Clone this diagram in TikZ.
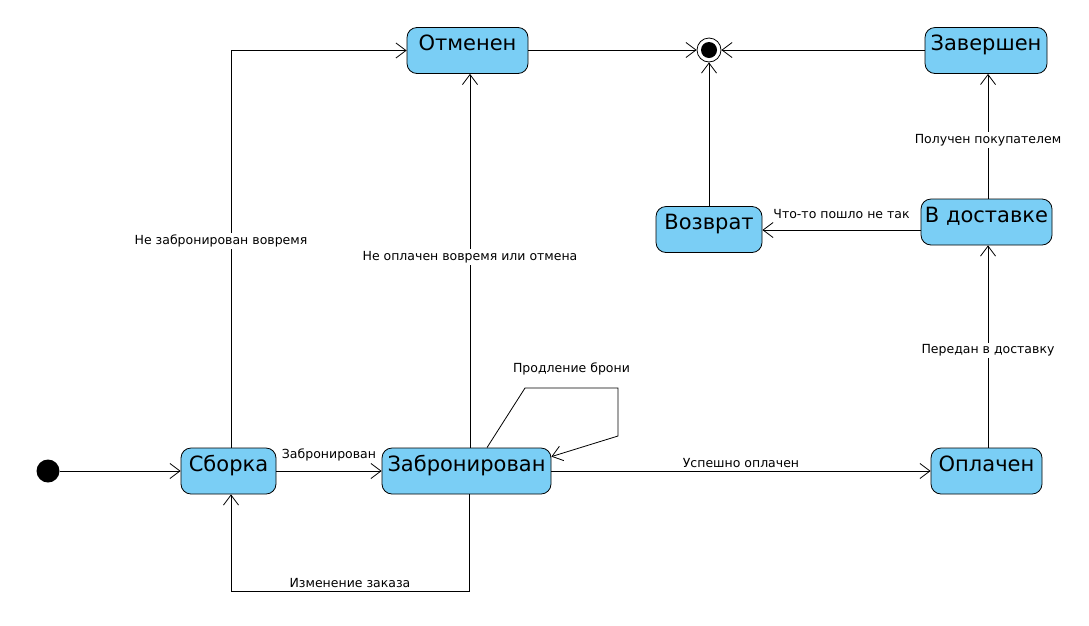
\documentclass[tikz,border=0pt]{standalone}
\usepackage{fontspec}
\setmainfont{DejaVu Sans}
\usetikzlibrary{arrows.meta}
\definecolor{stfill}{RGB}{122,206,245}

\tikzset{
  statebox/.style={draw, fill=stfill, rounded corners=10pt, line width=0.8pt,
    text height=19pt, text depth=19pt, inner ysep=4pt, inner xsep=0pt,
    font=\fontsize{21}{23}\selectfont},
  lbl/.style={fill=white, inner sep=2pt, font=\fontsize{12.5}{14}\selectfont},
  toplbl/.style={above, inner sep=3pt, font=\fontsize{12.5}{14}\selectfont},
  arr/.style={-{Straight Barb[length=10pt,width=15pt,line width=0.8pt]}, line width=0.8pt}
}

\begin{document}
\begin{tikzpicture}[x=1pt, y=-1pt]
        \useasboundingbox (0,0) rectangle (1089,625);

        %% states
        \node [circle, fill, minimum size=23pt, inner sep=0pt] (init) at (48,471) {};
        \node [statebox, minimum width=95pt] (sborka) at (228.5,471) {Сборка};
        \node [statebox, minimum width=169pt] (zabr) at (466.5,471) {Забронирован};
        \node [statebox, minimum width=111pt] (oplach) at (986.5,471) {Оплачен};
        \node [statebox, minimum width=131pt] (dostav) at (986.5,222) {В доставке};
        \node [statebox, minimum width=122pt] (zavers) at (986,50.5) {Завершен};
        \node [statebox, minimum width=106pt] (vozvr) at (709,229.5) {Возврат};
        \node [statebox, minimum width=121pt] (otmen) at (467.5,50.5) {Отменен};

        %% final state
        \node [circle, draw, fill=white, line width=0.8pt, minimum size=24pt, inner sep=0pt] (fin) at (709,50) {};
        \fill (fin.center) circle (8);

        %% bends
        \coordinate (chgA) at (469,591);
        \coordinate (chgB) at (231,591);
        \coordinate (loopA) at (525,388);
        \coordinate (loopB) at (618,388);
        \coordinate (loopC) at (618,436);

        %% transitions
        \draw [arr] (init) -- (sborka);
        \draw [arr] (sborka) -- node [toplbl, yshift=7pt] {Забронирован} (zabr);
        \draw [arr] ([xshift=2.5pt]sborka.north) |- node [lbl, pos=0.26, xshift=-10pt] {Не забронирован вовремя} (otmen.west);
        \draw [arr] ([xshift=3.5pt]zabr.north) -- node [lbl, pos=0.51] {Не оплачен вовремя или отмена} ([xshift=3.5pt]zabr.north |- otmen.south);
        \draw [arr] ([xshift=20.5pt]zabr.north) -- (loopA) -- node [toplbl, yshift=10pt] {Продление брони} (loopB) -- (loopC) -- ([yshift=-9pt]zabr.north east);
        \draw [arr] (zabr) -- node [toplbl] {Успешно оплачен} (oplach);
        \draw [arr] (zabr.south -| chgA) -- (chgA) -- node [toplbl] {Изменение заказа} (chgB) -- (sborka.south -| chgB);
        \draw [arr] ([xshift=1.5pt]oplach.north) -- node [lbl, pos=0.48] {Передан в доставку} ([xshift=1.5pt]dostav.south);
        \draw [arr] ([xshift=1.5pt]dostav.north) -- node [lbl, pos=0.47] {Получен покупателем} ([xshift=2pt]zavers.south);
        \draw [arr] ([yshift=-8pt]dostav.west) -- node [toplbl, yshift=8pt] {Что-то пошло не так} ([yshift=-8pt]dostav.west -| vozvr.east);
        \draw [arr] (vozvr) -- (fin);
        \draw [arr] (otmen.east |- fin) -- (fin);
        \draw [arr] (zavers.west |- fin) -- (fin);

    \end{tikzpicture}
\end{document}
